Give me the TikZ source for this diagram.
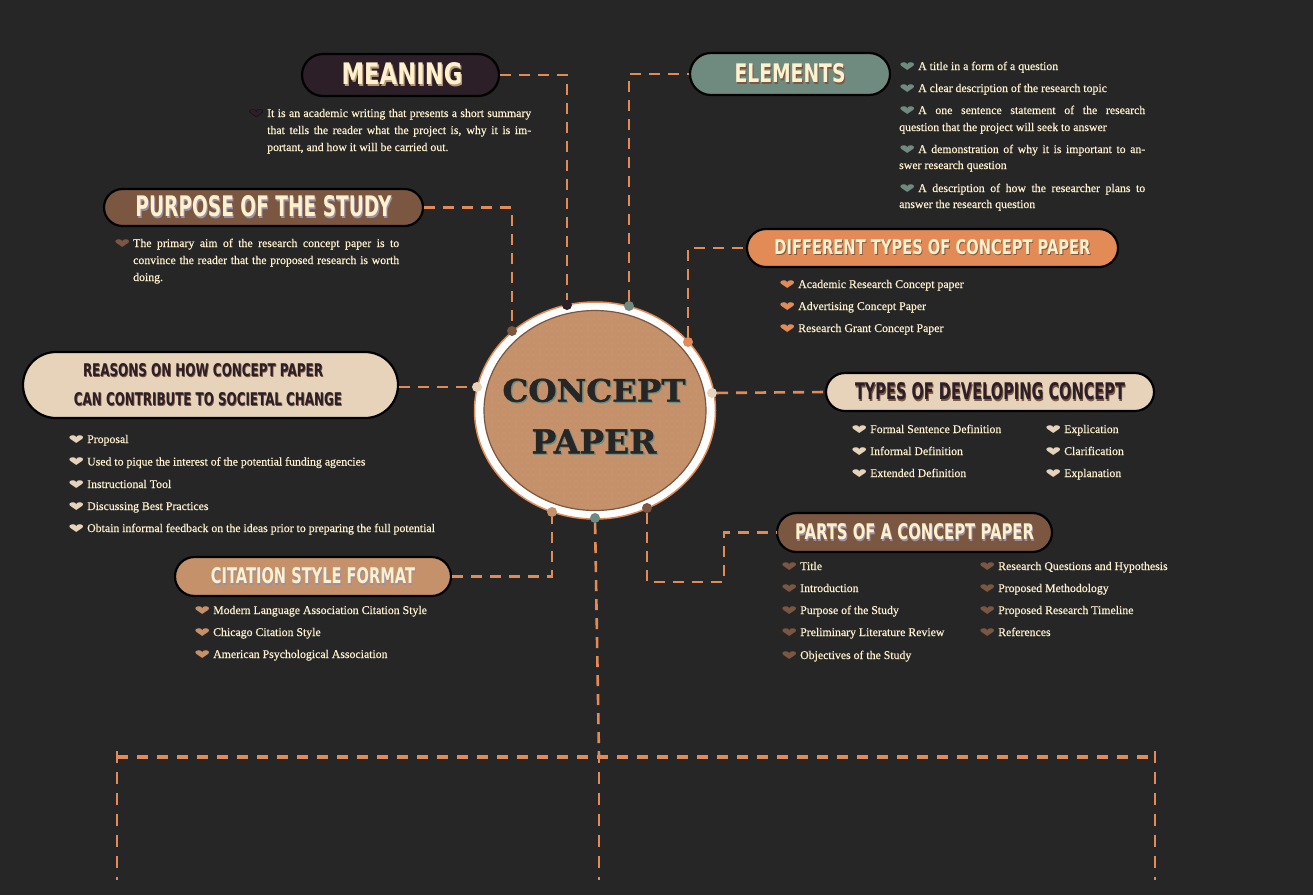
\documentclass[tikz,border=0pt]{standalone}
\usepackage{fontspec}
\usepackage{graphicx}
\setmainfont{Liberation Serif}
\newfontfamily\bodyfont{Liberation Serif}[FakeBold=0.5]
\newfontfamily\headfont{DejaVu Sans}
\newfontfamily\titlefont{DejaVu Serif}[FakeBold=1]
\newfontfamily\symfont{DejaVu Sans}
\usetikzlibrary{shapes.misc,shapes.geometric,patterns.meta}
\definecolor{bgc}{HTML}{262626}
\definecolor{orng}{HTML}{E38B56}
\definecolor{beige}{HTML}{E6D3BA}
\definecolor{brwn}{HTML}{7B5640}
\definecolor{tan}{HTML}{C4916A}
\definecolor{sage}{HTML}{6F8B7F}
\definecolor{darkp}{HTML}{2D1F28}
\definecolor{cream}{HTML}{FFF1CE}
\definecolor{lilac}{HTML}{9A8FA6}
\definecolor{shtan}{HTML}{B89878}
\definecolor{ttl}{HTML}{262626}
\newcommand\hd[5]{\resizebox{#1}{#2}{\headfont\bfseries\rlap{\kern0.06em\raisebox{-0.06em}{\color{#5}#3}}{\color{#4}#3}}}
\newcommand\hrt[1]{\textcolor{#1}{\symfont\scalebox{1.6}[0.9]{♥}}}
\newcommand\bul[1]{\llap{\hrt{#1}\hspace{2.5pt}}}
\newcommand\bulo{\llap{\rlap{\textcolor{darkp}{\symfont\scalebox{1.6}[0.9]{♥}}}\textcolor{black}{\symfont\scalebox{1.6}[0.9]{♡}}\hspace{2.5pt}}}
\newcommand\jl[2]{\makebox[#1][s]{#2}}
\tikzset{
  pill/.style={rounded rectangle, draw=black, line width=2.2pt, inner sep=0pt},
  conn/.style={draw=orng, line width=2.6pt, dash pattern=on 11pt off 8pt},
  hdash/.style={draw=orng, line width=3.2pt, dash pattern=on 11pt off 9pt},
  vdash/.style={draw=orng, line width=2pt, dash pattern=on 12pt off 9pt},
  body/.style={anchor=base west, inner sep=0pt, text=cream, font=\bodyfont\fontsize{11.8}{14}\selectfont},
  dotn/.style={circle, minimum size=10pt, inner sep=0pt},
}
\begin{document}
\begin{tikzpicture}[x=1pt,y=-1pt]
\fill[bgc] (0,0) rectangle (1313,895);
\useasboundingbox (0,0) rectangle (1313,895);

% central ellipse
\node[ellipse, fill=white, draw=orng, line width=1.5pt, minimum width=241pt, minimum height=217pt, inner sep=0pt] (ring) at (595,410.5) {};
\node[ellipse, fill=tan, draw=brwn, line width=1.2pt, minimum width=222pt, minimum height=200pt, inner sep=0pt] (core) at (595,410.5) {};
\fill[pattern={Dots[distance=6pt,radius=0.45pt]}, pattern color=beige!80!tan] (core.center) ellipse (109 and 98);
\node[inner sep=0pt] (ct1) at (594,391) {\resizebox{183pt}{23pt}{\titlefont\bfseries\rlap{\kern0.04em\raisebox{-0.04em}{\color{sage}CONCEPT}}\color{ttl}CONCEPT}};
\node[inner sep=0pt] (ct2) at (594,442) {\resizebox{125pt}{24pt}{\titlefont\bfseries\rlap{\kern0.04em\raisebox{-0.04em}{\color{sage}PAPER}}\color{ttl}PAPER}};

% dots on ring
\node[dotn, fill=darkp] (d1) at (567,305) {};
\node[dotn, fill=sage] (d2) at (629,306) {};
\node[dotn, fill=brwn] (d3) at (512,331) {};
\node[dotn, fill=orng] (d4) at (688,342) {};
\node[dotn, fill=beige] (d5) at (477,387) {};
\node[dotn, fill=beige] (d6) at (712,393) {};
\node[dotn, fill=tan] (d7) at (552,512) {};
\node[dotn, fill=sage] (d8) at (595,518) {};
\node[dotn, fill=brwn] (d9) at (647,508) {};

% pills
\node[pill, fill=darkp, minimum width=197pt, minimum height=42pt] (meaning) at (400.5,75) {\hspace*{3pt}\hd{121pt}{22pt}{MEANING}{cream}{shtan}};
\node[pill, fill=sage, minimum width=200pt, minimum height=42pt] (elements) at (790,74) {\hd{111pt}{19pt}{ELEMENTS}{cream}{brwn}};
\node[pill, fill=brwn, minimum width=319pt, minimum height=37pt] (purpose) at (263.5,207.5) {\hd{256pt}{21pt}{PURPOSE OF THE STUDY}{cream}{lilac}};
\node[pill, fill=beige, minimum width=375pt, minimum height=66pt] (reasons) at (210.5,385) {};
\node[inner sep=0pt] (r1) at (203,371) {\hd{240pt}{13pt}{REASONS ON HOW CONCEPT PAPER}{darkp}{brwn}};
\node[inner sep=0pt] (r2) at (208,400) {\hd{268pt}{13pt}{CAN CONTRIBUTE TO SOCIETAL CHANGE}{darkp}{brwn}};
\node[pill, fill=orng, minimum width=371pt, minimum height=38pt] (types) at (932.5,248) {\hd{316pt}{15pt}{DIFFERENT TYPES OF CONCEPT PAPER}{cream}{brwn}};
\node[pill, fill=beige, minimum width=328pt, minimum height=38pt] (develop) at (990,392) {\hd{270pt}{17pt}{TYPES OF DEVELOPING CONCEPT}{darkp}{brwn}};
\node[pill, fill=brwn, minimum width=275pt, minimum height=39pt] (parts) at (914.5,532.5) {\hd{239pt}{16pt}{PARTS OF A CONCEPT PAPER}{cream}{lilac}};
\node[pill, fill=tan, minimum width=276pt, minimum height=39pt] (citation) at (313,576.5) {\hd{204pt}{16pt}{CITATION STYLE FORMAT}{cream}{lilac}};

% connectors
\coordinate (pk) at (724,582);
\draw[conn] (meaning.east) -| (d1);
\draw[conn] (d2) |- (elements.west);
\draw[conn] (purpose.east) -| (d3);
\draw[conn] (d4) |- (types.west);
\draw[conn] (reasons.east |- d5) -- (d5);
\draw[conn] (d6) -- (develop.west);
\draw[conn] (citation.east) -| (d7);
\draw[conn] (d9) |- (pk) |- (parts.west);

\coordinate (bm) at (599,757);
\coordinate (bl) at (117,757);
\coordinate (br) at (1155,757);
\coordinate (blb) at (117,880);
\coordinate (bmb) at (599,880);
\coordinate (brb) at (1155,880);
\draw[conn] (d8) -- (bm);
\draw[hdash] (bl) -- (br);
\draw[vdash] ([yshift=6pt]bl) -- (blb);
\draw[vdash] ([yshift=6pt]bm) -- (bmb);
\draw[vdash] ([yshift=6pt]br) -- (brb);

% meaning text
\node[body] (m1) at (267,117) {\bulo\jl{264pt}{It is an academic writing that presents a short summary}};
\node[body] (m2) at (267,134) {\jl{264pt}{that tells the reader what the project is, why it is im-}};
\node[body] (m3) at (267,151) {portant, and how it will be carried out.};

% elements text
\node[body] (e1) at (918,70) {\bul{sage}A title in a form of a question};
\node[body] (e2) at (918,92) {\bul{sage}A clear description of the research topic};
\node[body] (e3) at (918,114) {\bul{sage}\jl{227pt}{A one sentence statement of the research}};
\node[body] (e4) at (899,131) {question that the project will seek to answer};
\node[body] (e5) at (918,153) {\bul{sage}\jl{227pt}{A demonstration of why it is important to an-}};
\node[body] (e6) at (899,169) {swer research question};
\node[body] (e7) at (918,192) {\bul{sage}\jl{227pt}{A description of how the researcher plans to}};
\node[body] (e8) at (899,208) {answer the research question};

% purpose text
\node[body] (p1) at (133,247) {\bul{brwn}\jl{266pt}{The primary aim of the research concept paper is to}};
\node[body] (p2) at (133,264) {\jl{266pt}{convince the reader that the proposed research is worth}};
\node[body] (p3) at (133,281) {doing.};

% reasons text
\node[body] (ra) at (87,443) {\bul{beige}Proposal};
\node[body] (rb) at (87,465.5) {\bul{beige}Used to pique the interest of the potential funding agencies};
\node[body] (rc) at (87,488) {\bul{beige}Instructional Tool};
\node[body] (rd) at (87,510) {\bul{beige}Discussing Best Practices};
\node[body] (re) at (87,532) {\bul{beige}Obtain informal feedback on the ideas prior to preparing the full potential};

% different types text
\node[body] (ta) at (798,288) {\bul{orng}Academic Research Concept paper};
\node[body] (tb) at (798,310) {\bul{orng}Advertising Concept Paper};
\node[body] (tc) at (798,332) {\bul{orng}Research Grant Concept Paper};

% developing text
\node[body] (va) at (870,433) {\bul{beige}Formal Sentence Definition};
\node[body] (vb) at (870,455) {\bul{beige}Informal Definition};
\node[body] (vc) at (870,477) {\bul{beige}Extended Definition};
\node[body] (vd) at (1064,433) {\bul{beige}Explication};
\node[body] (ve) at (1064,455) {\bul{beige}Clarification};
\node[body] (vf) at (1064,477) {\bul{beige}Explanation};

% parts text
\node[body] (qa) at (800,570) {\bul{brwn}Title};
\node[body] (qb) at (800,592) {\bul{brwn}Introduction};
\node[body] (qc) at (800,614) {\bul{brwn}Purpose of the Study};
\node[body] (qd) at (800,636) {\bul{brwn}Preliminary Literature Review};
\node[body] (qe) at (800,659) {\bul{brwn}Objectives of the Study};
\node[body] (qf) at (998,570) {\bul{brwn}Research Questions and Hypothesis};
\node[body] (qg) at (998,592) {\bul{brwn}Proposed Methodology};
\node[body] (qh) at (998,614) {\bul{brwn}Proposed Research Timeline};
\node[body] (qi) at (998,636) {\bul{brwn}References};

% citation text
\node[body] (ca) at (213,614) {\bul{tan}Modern Language Association Citation Style};
\node[body] (cb) at (213,636) {\bul{tan}Chicago Citation Style};
\node[body] (cc) at (213,658) {\bul{tan}American Psychological Association};
\end{tikzpicture}
\end{document}
